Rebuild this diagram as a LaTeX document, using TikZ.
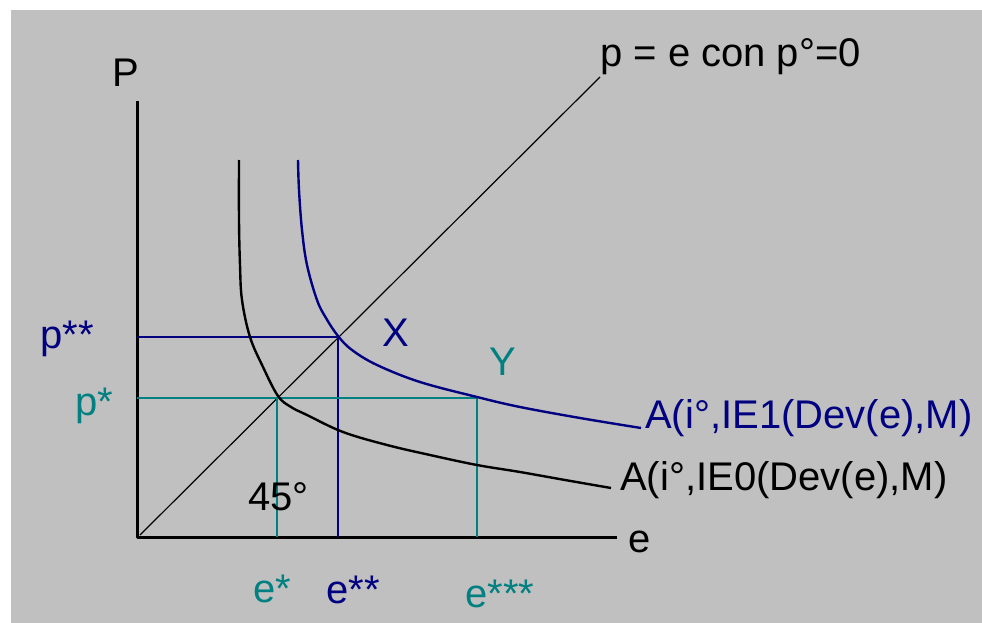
\documentclass[tikz,border=0pt]{standalone}
\usepackage{fontspec}
\setmainfont{Liberation Sans}
\definecolor{navyline}{RGB}{0,0,128}
\definecolor{tealline}{RGB}{0,128,128}
\definecolor{panelgray}{RGB}{192,192,192}

\begin{document}
\begin{tikzpicture}[x=1pt, y=-1pt, line cap=butt, line join=round,
  lbl/.style={anchor=base west, inner sep=0pt, font=\fontsize{40}{48}\selectfont},
  axis/.style={line width=3.0pt, black},
  guide/.style={line width=2.4pt}]

  %% ════ 底色 ════
  \fill[panelgray] (11,10) rectangle (982,623);

  %% ════ 关键点 ════
  \coordinate (O)  at (138,537);
  \coordinate (Ytop) at (137,101);
  \coordinate (Xend) at (617,537);
  \coordinate (Dend) at (600,77);
  \coordinate (Sa) at (277,398);   % e*, p*
  \coordinate (Sb) at (338,337);   % e**, p**
  \coordinate (Sc) at (477,398);   % e***

  %% ════ 坐标轴 ════
  \draw[axis] (Ytop) -- (137,537) -- (Xend);
  \draw[line width=1.2pt] (140,535) -- (Dend);

  %% ════ 辅助线 ════
  \draw[guide, navyline] (137,337) -- (Sb) -- (338,537);
  \draw[guide, tealline] (137,398) -- (Sc) -- (477,537);
  \draw[guide, tealline] (Sa) -- (277,537);

  %% ════ 曲线 ════
  \draw[line width=2.4pt] plot[smooth, tension=0.6] coordinates {
    (239,160) (239,220) (240,265) (242,300) (250,337) (263,367) (278,396)
    (291,407) (307,415) (343,432) (387,445) (430,455) (477,465) (520,472)
    (565,480) (611,488)};
  \draw[line width=2.4pt, navyline] plot[smooth, tension=0.6] coordinates {
    (298,160) (299,190) (302,230) (307,265) (317,300) (326,318) (338,336)
    (352,350) (377,365) (420,382) (477,397) (520,407) (580,418) (641,428)};

  %% ════ 标签 ════
  \node[lbl] (lP)   at (112,87)  {P};
  \node[lbl] (le)   at (628,552) {e};
  \node[lbl] (ldiag) at (600,67) {p = e con p°=0};
  \node[lbl, navyline] (lA1) at (645,428) {A(i°,IE1(Dev(e),M)};
  \node[lbl] (lA0) at (620,490) {A(i°,IE0(Dev(e),M)};
  \node[lbl, navyline] (lpss) at (40,348) {p**};
  \node[lbl, tealline] (lps)  at (75,415) {p*};
  \node[lbl, tealline] (les)   at (253,602) {e*};
  \node[lbl, navyline] (less)  at (326,603) {e**};
  \node[lbl, tealline] (lesss) at (465,607) {e***};
  \node[lbl, navyline] (lX) at (382,346) {X};
  \node[lbl, tealline] (lY) at (489,375) {Y};
  \node[lbl] (l45) at (248,510) {45°};

  % 画布
  \pgfresetboundingbox
  \path[use as bounding box] (0,0) rectangle (982,623);
\end{tikzpicture}
\end{document}
